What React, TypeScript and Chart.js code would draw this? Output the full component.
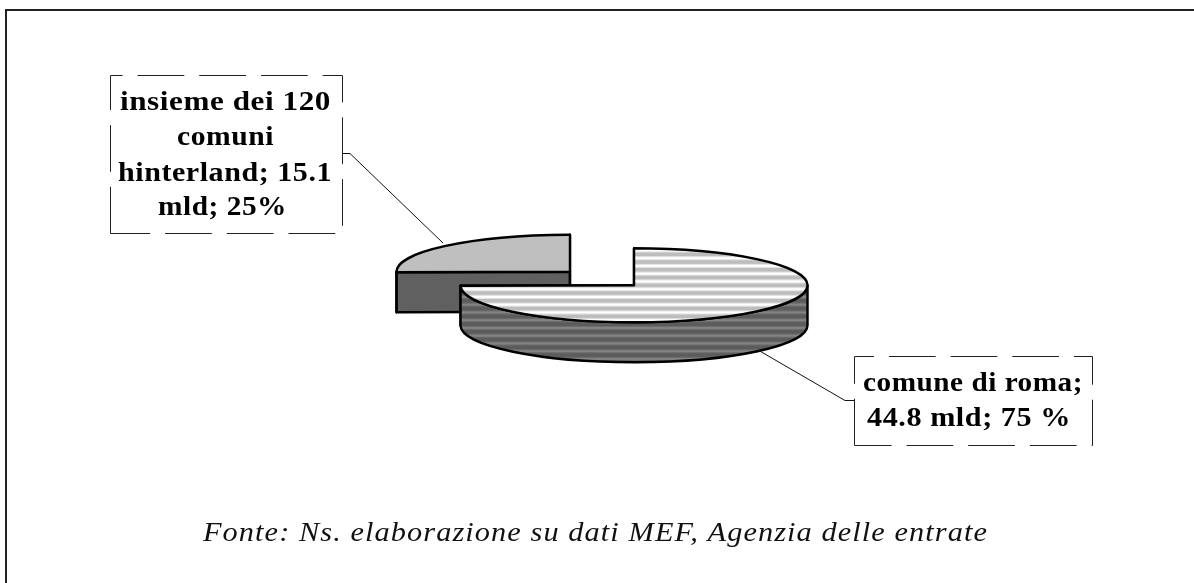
import React, { useEffect, useRef } from "react";
import { Chart, registerables } from "chart.js";

Chart.register(...registerables);

// ---- data ----
const categories = ["insieme dei 120 comuni hinterland", "comune di roma"];
const valuesMld = [15.1, 44.8];
const explode = [45, 45];
const labelLinesHinterland = ["insieme dei 120", "comuni", "hinterland; 15.1", "mld; 25%"];
const labelLinesRoma = ["comune di roma;", "44.8 mld; 75 %"];
const sourceNote = "Fonte: Ns. elaborazione su dati MEF, Agenzia delle entrate";

// ---- styles ----
const W = 1194;
const H = 583;
const SQUASH = 0.2133;
const DEPTH = 40;
const PERIOD = 7.75;
const PHASE = 6.3;
const SERIF = '"Liberation Serif"';

function stripes(base: string, halo: string, core: string, ctx: CanvasRenderingContext2D) {
  const c = document.createElement("canvas");
  c.width = 4;
  c.height = 31;
  const g = c.getContext("2d")!;
  g.fillStyle = base;
  g.fillRect(0, 0, 4, 31);
  for (let i = -1; i < 5; i++) {
    const mid = PHASE + i * PERIOD;
    g.fillStyle = halo;
    g.fillRect(0, mid - 2.9, 4, 5.8);
    g.fillStyle = core;
    g.fillRect(0, mid - 1.8, 4, 3.6);
  }
  return ctx.createPattern(c, "repeat")!;
}

const pie3d = {
  id: "pie3d",
  beforeDatasetDraw(chart: any, args: any) {
    const ctx: CanvasRenderingContext2D = chart.ctx;
    const wallFill = chart.data.datasets[args.index].wallFill as any[];
    args.meta.data.forEach((arc: any, i: number) => {
      const { x, y, startAngle: s, endAngle: e, outerRadius: r } = arc.getProps(
        ["x", "y", "startAngle", "endAngle", "outerRadius"],
        true
      );
      const mid = (s + e) / 2;
      const tx = Math.cos(mid) * explode[i];
      const ty = Math.sin(mid) * explode[i];
      const cx = x + tx;
      const cy = y + ty * SQUASH;
      const ry = r * SQUASH;
      const rim = (a: number) => [cx + Math.cos(a) * r, cy + Math.sin(a) * ry];

      ctx.save();
      ctx.lineWidth = 2.4;
      ctx.strokeStyle = "#000";
      ctx.lineJoin = "round";
      ctx.fillStyle = wallFill[i];

      // the two cut faces
      for (const a of [s, e]) {
        const [px, py] = rim(a);
        ctx.beginPath();
        ctx.moveTo(cx, cy);
        ctx.lineTo(px, py);
        ctx.lineTo(px, py + DEPTH);
        ctx.lineTo(cx, cy + DEPTH);
        ctx.closePath();
        ctx.fill();
        ctx.stroke();
      }

      // the part of the outer wall that faces the viewer
      for (const shift of [-2 * Math.PI, 0, 2 * Math.PI]) {
        const lo = Math.max(s + shift, 0);
        const hi = Math.min(e + shift, Math.PI);
        if (lo >= hi) continue;
        ctx.beginPath();
        ctx.ellipse(cx, cy, r, ry, 0, lo, hi);
        ctx.ellipse(cx, cy + DEPTH, r, ry, 0, hi, lo, true);
        ctx.closePath();
        ctx.fill();
        ctx.stroke();
      }

      // the top face, drawn by the library's own arc element
      const bg = arc.options.backgroundColor;
      if (bg instanceof CanvasPattern) {
        bg.setTransform(new DOMMatrix([1, 0, 0, 1 / SQUASH, -tx, y - ty - y / SQUASH]));
      }
      ctx.save();
      ctx.translate(0, y);
      ctx.scale(1, SQUASH);
      ctx.translate(0, -y);
      ctx.translate(tx, ty);
      arc.draw(ctx);
      ctx.restore();

      ctx.beginPath();
      ctx.moveTo(cx, cy);
      ctx.ellipse(cx, cy, r, ry, 0, s, e);
      ctx.closePath();
      ctx.stroke();
      ctx.restore();
    });
    return false;
  },
};

function fitText(
  ctx: CanvasRenderingContext2D,
  text: string,
  left: number,
  baseline: number,
  width: number
) {
  const w = ctx.measureText(text).width;
  ctx.save();
  ctx.translate(left, baseline);
  ctx.scale(width / w, 1);
  ctx.fillText(text, 0, 0);
  ctx.restore();
}

function dashedBox(ctx: CanvasRenderingContext2D, x0: number, y0: number, x1: number, y1: number) {
  ctx.save();
  ctx.lineWidth = 1;
  ctx.strokeStyle = "#222";
  ctx.setLineDash([46.7, 15]);
  ctx.beginPath();
  ctx.moveTo(x0, y1);
  ctx.lineTo(x0, y0);
  ctx.lineTo(x1, y0);
  ctx.lineTo(x1, y1);
  ctx.lineTo(x0, y1);
  ctx.stroke();
  ctx.restore();
}

function polyline(ctx: CanvasRenderingContext2D, pts: number[][]) {
  ctx.save();
  ctx.lineWidth = 1;
  ctx.strokeStyle = "#111";
  ctx.beginPath();
  pts.forEach(([a, b], i) => (i ? ctx.lineTo(a, b) : ctx.moveTo(a, b)));
  ctx.stroke();
  ctx.restore();
}

const annotations = {
  id: "annotations",
  afterDraw(chart: any) {
    const ctx: CanvasRenderingContext2D = chart.ctx;
    ctx.save();
    // frame: only top and left edges are visible
    ctx.lineWidth = 2;
    ctx.strokeStyle = "#222";
    ctx.beginPath();
    ctx.moveTo(6, H);
    ctx.lineTo(6, 10);
    ctx.lineTo(W, 10);
    ctx.stroke();

    polyline(ctx, [[342.5, 153.5], [350, 153.5], [443, 243]]);
    polyline(ctx, [[758, 350], [845, 400.5], [854.5, 400.5]]);
    dashedBox(ctx, 110.5, 75.5, 342.5, 233.5);
    dashedBox(ctx, 854.5, 356.5, 1092.5, 445.5);

    ctx.fillStyle = "#000";
    ctx.textBaseline = "alphabetic";
    ctx.font = `bold 28px ${SERIF}`;
    (ctx as any).letterSpacing = "0.5px";
    const g1 = [
      [120, 110, 211],
      [177, 145, 97],
      [118, 180.5, 214],
      [158, 215, 129],
    ];
    labelLinesHinterland.forEach((t, i) => fitText(ctx, t, g1[i][0], g1[i][1], g1[i][2]));
    const g2 = [
      [863, 390.5, 220],
      [867, 426, 204],
    ];
    labelLinesRoma.forEach((t, i) => fitText(ctx, t, g2[i][0], g2[i][1], g2[i][2]));

    ctx.font = `italic 28px ${SERIF}`;
    (ctx as any).letterSpacing = "1px";
    ctx.fillStyle = "#111";
    fitText(ctx, sourceNote, 203, 541, 785);
    ctx.restore();
  },
};

export default function App() {
  const ref = useRef<HTMLCanvasElement>(null);
  useEffect(() => {
    const canvas = ref.current!;
    const ctx = canvas.getContext("2d")!;
    const topFill = stripes("#ffffff", "#e2e2e2", "#bdbdbd", ctx);
    const wallRoma = stripes("#848484", "#6c6c6c", "#5c5c5c", ctx);
    const chart: any = new Chart(canvas, {
      type: "pie",
      data: {
        labels: categories,
        datasets: [
          {
            data: valuesMld,
            backgroundColor: ["#bfbfbf", topFill],
            wallFill: ["#606060", wallRoma],
            borderWidth: 0,
            clip: false,
          } as any,
        ],
      },
      options: {
        responsive: false,
        animation: false,
        radius: 173.5,
        rotation: -(valuesMld[0] / (valuesMld[0] + valuesMld[1])) * 360,
        layout: { padding: { left: 10, right: 0, top: 0, bottom: 26 } },
        plugins: { legend: { display: false }, tooltip: { enabled: false } },
      } as any,
      plugins: [pie3d as any, annotations as any],
    });
    return () => chart.destroy();
  }, []);
  return (
    <div style={{ position: "fixed", left: 0, top: 0, width: W, height: H, background: "#fff" }}>
      <canvas ref={ref} width={W} height={H} style={{ display: "block" }} />
    </div>
  );
}
